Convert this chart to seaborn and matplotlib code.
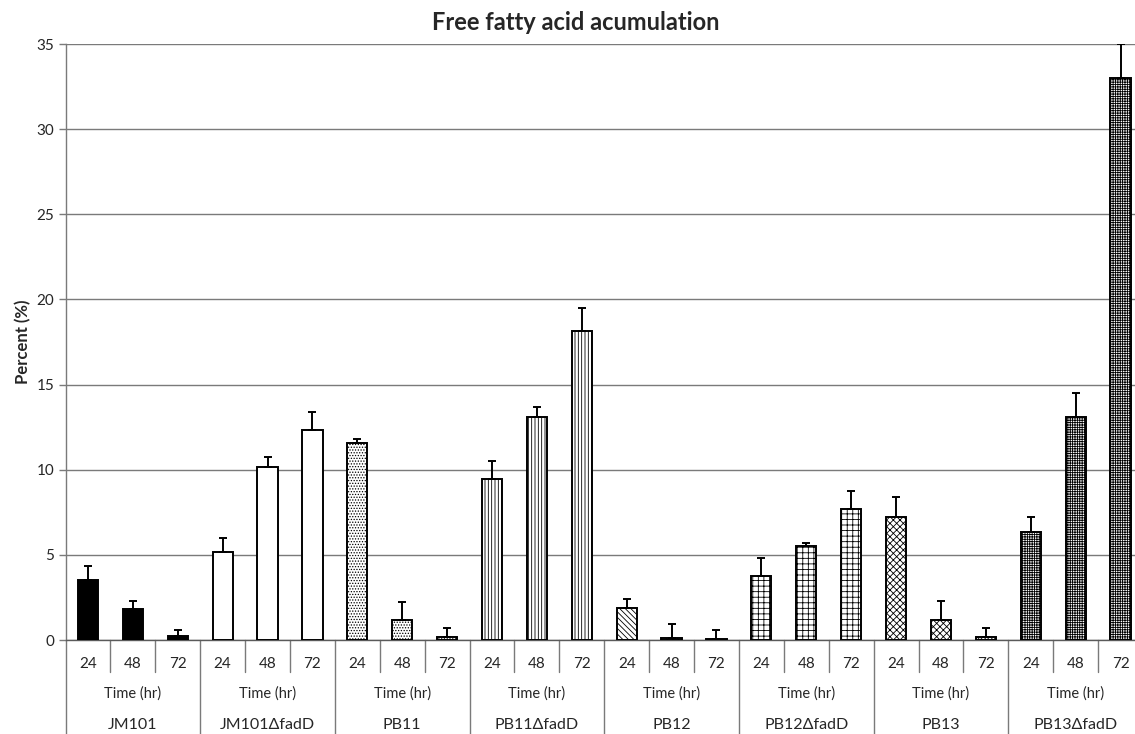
import numpy as np
import pandas as pd
import matplotlib
matplotlib.use("Agg")
import matplotlib.pyplot as plt
import seaborn as sns

# ---- data ----
strains = ["JM101", "JM101\u0394fadD", "PB11", "PB11\u0394fadD",
           "PB12", "PB12\u0394fadD", "PB13", "PB13\u0394fadD"]
times = ["24", "48", "72"]
values = [3.52, 1.82, 0.25,
          5.19, 10.14, 12.33,
          11.59, 1.17, 0.16,
          9.45, 13.08, 18.14,
          1.86, 0.10, 0.05,
          3.76, 5.52, 7.67,
          7.24, 1.17, 0.16,
          6.32, 13.11, 33.02]
errors = [0.83, 0.49, 0.33,
          0.80, 0.62, 1.04,
          0.23, 1.06, 0.56,
          1.04, 0.62, 1.35,
          0.53, 0.82, 0.55,
          1.07, 0.19, 1.08,
          1.18, 1.14, 0.53,
          0.88, 1.39, 1.98]
time_axis_label = "Time (hr)"
title = "Free fatty acid acumulation"
ylabel = "Percent (%)"

# ---- styling ----
sns.set_theme(style="white")
plt.rcParams["font.family"] = ["Lato", "DejaVu Sans"]
plt.rcParams["hatch.linewidth"] = 0.6
plt.rcParams["hatch.color"] = "black"

face = ["black", "white", "white", "white", "white", "white", "white", "white"]
hatches = [None, None, "......", "|||||", "\\\\\\\\\\\\", "+++", "xxxxx", "+++++++"]

rows = []
for gi, s in enumerate(strains):
    for ti, t in enumerate(times):
        rows.append({"key": f"{s}|{t}", "strain": s, "time": t,
                     "value": values[gi * 3 + ti], "err": errors[gi * 3 + ti]})
df = pd.DataFrame(rows)
order = list(df["key"])

L, R = 65.5, 1143.0
fig = plt.figure(figsize=(11.35, 7.34), dpi=100)
ax = fig.add_axes([L / 1135, 94 / 734, (R - L) / 1135, (640 - 44) / 734])

sns.barplot(data=df, x="key", y="value", order=order, color="white",
            edgecolor="black", linewidth=1.4, width=0.45, errorbar=None,
            ax=ax, zorder=3)

for i, p in enumerate(ax.patches):
    g = i // 3
    p.set_facecolor(face[g])
    if hatches[g]:
        p.set_hatch(hatches[g])
    p.set_edgecolor("black")

xs = np.arange(len(df))
ax.errorbar(xs, df["value"], yerr=[np.zeros(len(df)), df["err"]], fmt="none",
            ecolor="black", elinewidth=1.4, capsize=2.8, capthick=1.4, zorder=4)

ax.set_ylim(0, 35)
ax.set_xlim(-0.5, len(df) - 0.5)
ax.set_yticks(np.arange(0, 36, 5))
ax.yaxis.grid(True, color="#7a7a7a", linewidth=1.0, zorder=0)
ax.set_axisbelow(True)
for sp in ["top", "right"]:
    ax.spines[sp].set_visible(False)
ax.spines["left"].set_color("#7a7a7a")
ax.spines["left"].set_linewidth(1.0)
ax.spines["bottom"].set_color("#5a5a5a")
ax.spines["bottom"].set_linewidth(1.0)

ax.tick_params(axis="y", direction="out", length=5, width=1, color="#7a7a7a",
               labelsize=11, pad=3, left=True)
ax.set_xticks(xs)
ax.set_xticklabels(list(df["time"]), fontsize=11)
ax.tick_params(axis="x", length=0, pad=12)
ax.set_xlabel("")
ax.set_ylabel(ylabel, fontsize=12, fontweight="bold", labelpad=4)

ax.set_title(title, fontsize=17, fontweight="bold", pad=10,
             x=(576 - L) / (R - L))

# category table lines
trans = matplotlib.transforms.blended_transform_factory(ax.transData, ax.transAxes)
short = -(672 - 640) / 596
long_ = -(740 - 640) / 596
for i in range(len(df) + 1):
    ylow = long_ if i % 3 == 0 else short
    ax.plot([i - 0.5, i - 0.5], [0, ylow], transform=trans, color="#7a7a7a",
            lw=1.0, clip_on=False)

for gi, s in enumerate(strains):
    cx = gi * 3 + 1
    ax.text(cx, -(694 - 640) / 596, time_axis_label, transform=trans,
            ha="center", va="center", fontsize=10.5)
    ax.text(cx, -(725 - 640) / 596, s, transform=trans,
            ha="center", va="center", fontsize=11.5)

fig.savefig("out.png", dpi=100)
